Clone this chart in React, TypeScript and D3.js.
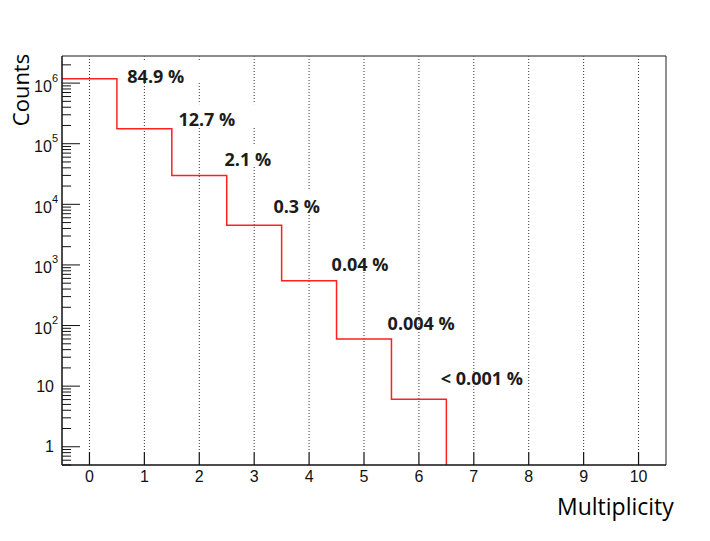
import React from "react";
import * as d3 from "d3";

// ---- data ----
const multiplicity = [0, 1, 2, 3, 4, 5, 6, 7, 8, 9, 10];
const counts = [1.18e6, 1.77e5, 3.0e4, 4.5e3, 550, 60, 6.1, 0, 0, 0, 0];
const percentLabels = ["84.9 %", "12.7 %", "2.1 %", "0.3 %", "0.04 %", "0.004 %", "< 0.001 %"];
const labelAtX = [0.69, 1.62, 2.46, 3.35, 4.41, 5.43, 6.4];
const labelAtY = [1.0e6, 1.95e5, 4.3e4, 7.2e3, 790, 85, 10.4];
const xTicks = [0, 1, 2, 3, 4, 5, 6, 7, 8, 9, 10];
const yMajorTicks = [1, 10, 100, 1e3, 1e4, 1e5, 1e6];
const yDomain: [number, number] = [0.5, 2.8e6];
const xDomain: [number, number] = [-0.5, 10.5];

const W = 710, H = 541;
const L = 62, R = 666, T = 56, B = 465;

const tickFont = "'Liberation Sans', Arial, Helvetica, sans-serif";
const labelFont = "'Open Sans', sans-serif";

function measure(text: string, font: string): number {
  if (typeof document === "undefined") return text.length * 9;
  const c = document.createElement("canvas");
  const ctx = c.getContext("2d");
  if (!ctx) return text.length * 9;
  ctx.font = font;
  return ctx.measureText(text).width;
}

export default function App() {
  const x = d3.scaleLinear().domain(xDomain).range([L, R]);
  const y = d3.scaleLog().domain(yDomain).range([B, T]);

  // minor ticks
  const minor: number[] = [];
  for (let e = -1; e <= 6; e++) {
    for (let m = 2; m <= 9; m++) {
      const v = m * Math.pow(10, e);
      if (v >= yDomain[0] && v <= yDomain[1]) minor.push(v);
    }
  }

  // step outline up to the last non-empty bin, then drop to the floor
  let last = counts.length - 1;
  while (last > 0 && counts[last] <= 0) last--;
  const pts: [number, number][] = [];
  for (let i = 0; i <= last; i++) {
    pts.push([multiplicity[i] - 0.5, counts[i]]);
    pts.push([multiplicity[i] + 0.5, counts[i]]);
  }
  pts.push([multiplicity[last] + 0.5, 0]);
  const line = d3
    .line<[number, number]>()
    .x((d) => x(d[0]))
    .y((d) => (d[1] > 0 ? y(d[1]) : B));

  const pctFont = `bold 18px ${labelFont}`;

  return (
    <svg width={W} height={H} style={{ position: "absolute", left: 0, top: 0, background: "#fff" }}>
      <rect x={0} y={0} width={W} height={H} fill="#fff" />
      {/* grid lines */}
      {xTicks.map((t) => (
        <line key={"g" + t} x1={x(t)} x2={x(t)} y1={T} y2={B - 13} stroke="#333" strokeWidth={1} strokeDasharray="1 2" />
      ))}
      {/* label boxes */}
      {percentLabels.slice(0, 5).map((s, i) => {
        const lx = x(labelAtX[i]);
        const ly = y(labelAtY[i]);
        const w = measure(s, pctFont);
        return <rect key={"bx" + i} x={lx - 10} y={ly - 22} width={w + 32} height={22} fill="#fff" />;
      })}
      {/* histogram */}
      <path d={line(pts) || ""} fill="none" stroke="#ff2020" strokeWidth={1.5} />
      {/* frame */}
      <line x1={L} x2={R} y1={T} y2={T} stroke="#666" strokeWidth={1.5} />
      <line x1={R} x2={R} y1={T} y2={B} stroke="#222" strokeWidth={1} />
      <line x1={L} x2={R} y1={B} y2={B} stroke="#111" strokeWidth={1.5} />
      <line x1={L} x2={L} y1={T} y2={B} stroke="#111" strokeWidth={1.5} />
      {/* x ticks */}
      {xTicks.map((t) => (
        <g key={"xt" + t}>
          <line x1={x(t)} x2={x(t)} y1={B} y2={B - 13} stroke="#111" strokeWidth={1.2} />
          <text x={x(t)} y={B + 17} textAnchor="middle" fontFamily={tickFont} fontSize={16} fill="#111">
            {t}
          </text>
        </g>
      ))}
      {/* y ticks */}
      {minor.map((v, i) => (
        <line key={"ym" + i} x1={L} x2={L + 9} y1={y(v)} y2={y(v)} stroke="#111" strokeWidth={1} />
      ))}
      {yMajorTicks.map((v) => {
        const e = Math.round(Math.log10(v));
        const yy = y(v);
        return (
          <g key={"yM" + v}>
            <line x1={L} x2={L + 18} y1={yy} y2={yy} stroke="#111" strokeWidth={1} />
            {e <= 1 ? (
              <text x={54} y={yy + 5.5} textAnchor="end" fontFamily={tickFont} fontSize={16} fill="#111">
                {e === 0 ? "1" : "10"}
              </text>
            ) : (
              <text x={58} y={yy + 8.5} textAnchor="end" fontFamily={tickFont} fontSize={16} fill="#111">
                10
                <tspan dy={-10} fontSize={11}>
                  {e}
                </tspan>
              </text>
            )}
          </g>
        );
      })}
      {/* percent labels */}
      {percentLabels.map((s, i) => (
        <text
          key={"pl" + i}
          x={x(labelAtX[i])}
          y={y(labelAtY[i])}
          fontFamily={labelFont}
          fontWeight="bold"
          fontSize={18}
          fill="#1c1c1c"
        >
          {s}
        </text>
      ))}
      {/* axis titles */}
      <text
        transform={`translate(29,90) rotate(-90)`}
        textAnchor="middle"
        fontFamily={labelFont}
        fontSize={22}
        fill="#000"
      >
        Counts
      </text>
      <text x={557} y={515} fontFamily={labelFont} fontSize={23} fill="#000">
        Multiplicity
      </text>
    </svg>
  );
}
